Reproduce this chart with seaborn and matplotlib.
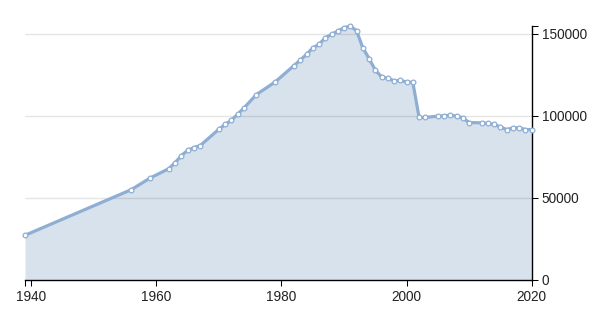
import matplotlib
matplotlib.use("Agg")
import matplotlib.pyplot as plt
import seaborn as sns
import pandas as pd

years = [1939, 1956, 1959, 1962, 1963, 1964, 1965, 1966, 1967, 1970, 1971, 1972, 1973, 1974,
         1976, 1979, 1982, 1983, 1984, 1985, 1986, 1987, 1988, 1989, 1990, 1991, 1992, 1993,
         1994, 1995, 1996, 1997, 1998, 1999, 2000, 2001, 2002, 2003, 2005, 2006, 2007, 2008,
         2009, 2010, 2012, 2013, 2014, 2015, 2016, 2017, 2018, 2019, 2020]
values = [27000, 54900, 62000, 67700, 71400, 75700, 78900, 80600, 81800, 91800, 94700, 97300,
          101000, 104800, 113000, 120700, 130700, 134000, 137500, 141500, 143600, 147700,
          149700, 151800, 153800, 154800, 152000, 141500, 135000, 127900, 123800, 122800,
          121400, 121600, 120700, 120400, 99000, 99000, 99800, 100000, 100400, 99800, 98700,
          95900, 95700, 95300, 94700, 93200, 91600, 92600, 92600, 91600, 91600]
x_ticks = [1940, 1960, 1980, 2000, 2020]
y_ticks = [0, 50000, 100000, 150000]

df = pd.DataFrame({"year": years, "value": values})

sns.set_theme(style="white")
plt.rcParams["font.family"] = ["Liberation Sans", "DejaVu Sans"]

fig = plt.figure(figsize=(6.09, 3.15), dpi=100)
ax = fig.add_axes([25 / 609, 35.5 / 315, 506.7 / 609, 253.4 / 315])

line_c = "#8eaed3"
fill_c = "#d8e2ed"

ax.fill_between(df["year"], 0, df["value"], color=fill_c, linewidth=0, zorder=1)
for v in y_ticks[1:]:
    ax.axhline(v, color="black", alpha=0.1, lw=1.0, zorder=2)
sns.lineplot(data=df, x="year", y="value", ax=ax, color=line_c, lw=2.3, zorder=3,
             marker="o", markersize=3.4, markerfacecolor="white", markeredgecolor=line_c,
             markeredgewidth=0.9, clip_on=False)

ax.set_xlim(min(years), max(years))
ax.set_ylim(0, max(values))
ax.set_xticks(x_ticks)
ax.set_yticks(y_ticks)
ax.set_xticks([min(years)], minor=True)
ax.set_yticks([max(values)], minor=True)
ax.set_xticklabels([str(t) for t in x_ticks])
ax.set_yticklabels([str(t) for t in y_ticks])
ax.yaxis.tick_right()
ax.set_xlabel("")
ax.set_ylabel("")

for s in ["top", "left"]:
    ax.spines[s].set_visible(False)
for s in ["bottom", "right"]:
    ax.spines[s].set_visible(True)
    ax.spines[s].set_color("black")
    ax.spines[s].set_linewidth(1.0)
    ax.spines[s].set_zorder(2.5)

ax.tick_params(axis="both", which="both", direction="out", length=4.3, width=0.75,
               color="black", labelsize=9.8, labelcolor="#222222", pad=3.0)
ax.tick_params(axis="x", which="both", bottom=True, top=False)
ax.tick_params(axis="y", which="both", right=True, left=False, labelright=True, labelleft=False)
ax.grid(False)

fig.savefig("out.png", dpi=100)
